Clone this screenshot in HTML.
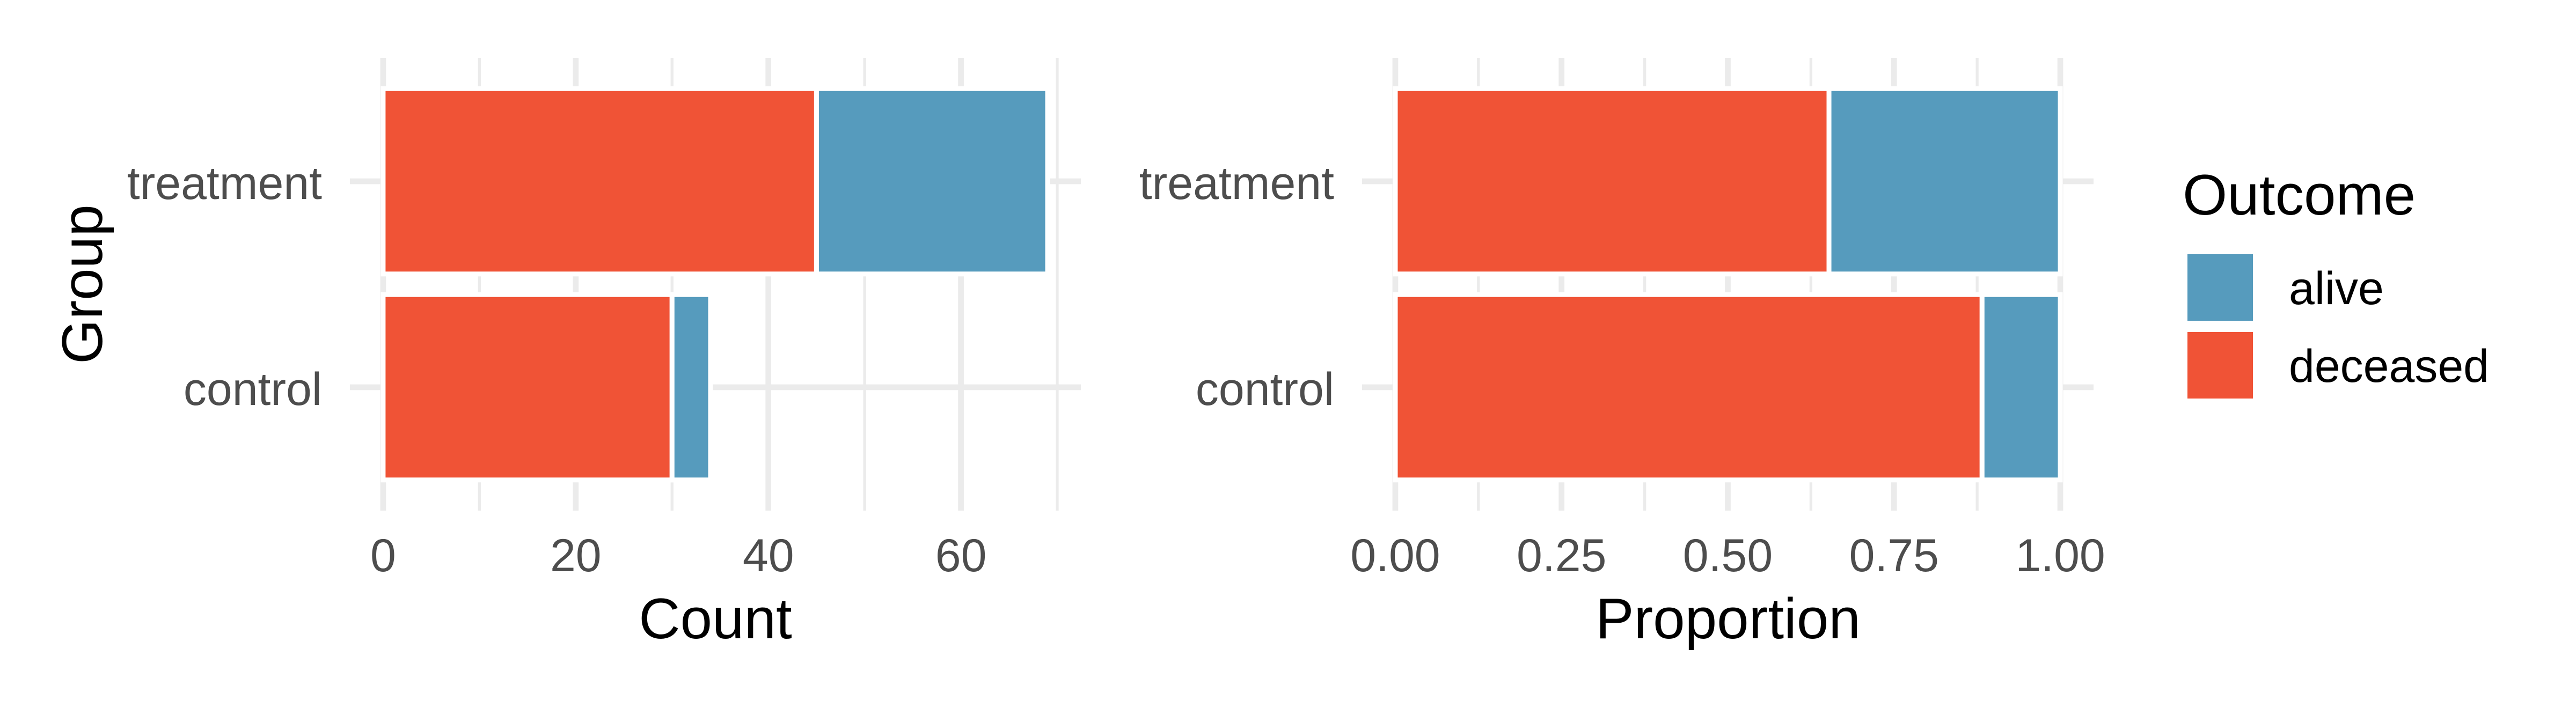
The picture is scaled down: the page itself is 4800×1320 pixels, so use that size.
<!DOCTYPE html>
<html><head><meta charset="utf-8"><style>
html,body{margin:0;padding:0;background:#fff;}
svg{display:block;font-family:"Liberation Sans",Arial,sans-serif;}
</style></head><body>
<svg id="chart" width="4800" height="1320" viewBox="0 0 4800 1320" xmlns="http://www.w3.org/2000/svg">
<rect width="4800" height="1320" fill="#fff"/>
<g id="left"></g>
<g id="right"></g>
<text x="0" y="0" transform="translate(190,530) rotate(-90)" text-anchor="middle" font-size="107" fill="#000">Group</text>
<text x="1333" y="1190" text-anchor="middle" font-size="107" fill="#000">Count</text>
<text x="3220" y="1190" text-anchor="middle" font-size="107" fill="#000">Proportion</text>
<g>
<text x="4067" y="400" font-size="107" fill="#000">Outcome</text>
<rect x="4076" y="474" width="122" height="124" fill="#569BBD"/>
<text x="4265" y="567" font-size="86" fill="#000">alive</text>
<rect x="4076" y="619" width="122" height="124" fill="#F05336"/>
<text x="4265" y="712" font-size="86" fill="#000">deceased</text>
</g>
</svg>
<script>
const groups = ["control", "treatment"];
const deceased = [30, 45];
const alive = [4, 24];
const countTicks = [0, 20, 40, 60];
const propTicks = ["0.00", "0.25", "0.50", "0.75", "1.00"];

const NS = "http://www.w3.org/2000/svg";
function mk(parent, tag, attrs) {
  const e = document.createElementNS(NS, tag);
  for (const k in attrs) e.setAttribute(k, attrs[k]);
  parent.appendChild(e);
  return e;
}
const top0 = 108, bot0 = 952;
const catY = i => 722 - i * 384; // control at 722, treatment at 338
const band = 384 * 0.9;

function panel(g, x0, x1, domMin, domMax, majors, minors, tickLabels, values, labelRight, prefix) {
  const sx = v => x0 + (v - domMin) / (domMax - domMin) * (x1 - x0);
  minors.forEach(v => {
    const l = mk(g, "line", {x1: sx(v), x2: sx(v), y1: top0, y2: bot0, stroke: "#EBEBEB", "stroke-width": 5.3});
    
    
  });
  majors.forEach(v => {
    const l = mk(g, "line", {x1: sx(v), x2: sx(v), y1: top0, y2: bot0, stroke: "#EBEBEB", "stroke-width": 10.7});
    
    
  });
  groups.forEach((gname, i) => {
    const l = mk(g, "line", {x1: x0, x2: x1, y1: catY(i), y2: catY(i), stroke: "#EBEBEB", "stroke-width": 10.7});
    
    
    const t = mk(g, "text", {x: labelRight, y: catY(i) + 33, "text-anchor": "end", "font-size": 86, fill: "#4D4D4D"});
    t.textContent = gname;
    
    
  });
  groups.forEach((gname, i) => {
    const d = values.d[i], a = values.a[i];
    const yT = catY(i) - band / 2;
    const r1 = mk(g, "rect", {x: sx(0), y: yT, width: sx(d) - sx(0), height: band, fill: "#F05336", stroke: "#fff", "stroke-width": 9});
    
    
    const r2 = mk(g, "rect", {x: sx(d), y: yT, width: sx(d + a) - sx(d), height: band, fill: "#569BBD", stroke: "#fff", "stroke-width": 9});
    
    
  });
  majors.forEach((v, j) => {
    const t = mk(g, "text", {x: sx(v), y: 1065, "text-anchor": "middle", "font-size": 86, fill: "#4D4D4D"});
    t.textContent = tickLabels[j];
    
    
  });
}

// Left: count
const totals = groups.map((g, i) => deceased[i] + alive[i]);
const maxT = Math.max(...totals);
const cMin = -0.05 * maxT, cMax = maxT * 1.05;
const cMinors = [];
for (let v = 10; v <= cMax; v += 20) cMinors.push(v);
panel(document.getElementById("left"), 652, 2014, cMin, cMax, countTicks, cMinors,
  countTicks.map(String), {d: deceased, a: alive}, 600, "count");

// Right: proportion
const propVals = propTicks.map(Number);
const pD = deceased.map((d, i) => d / totals[i]);
const pA = alive.map((a, i) => a / totals[i]);
panel(document.getElementById("right"), 2538, 3901, -0.05, 1.05, propVals, [0.125, 0.375, 0.625, 0.875],
  propTicks, {d: pD, a: pA}, 2486, "prop");
</script>
</body></html>
